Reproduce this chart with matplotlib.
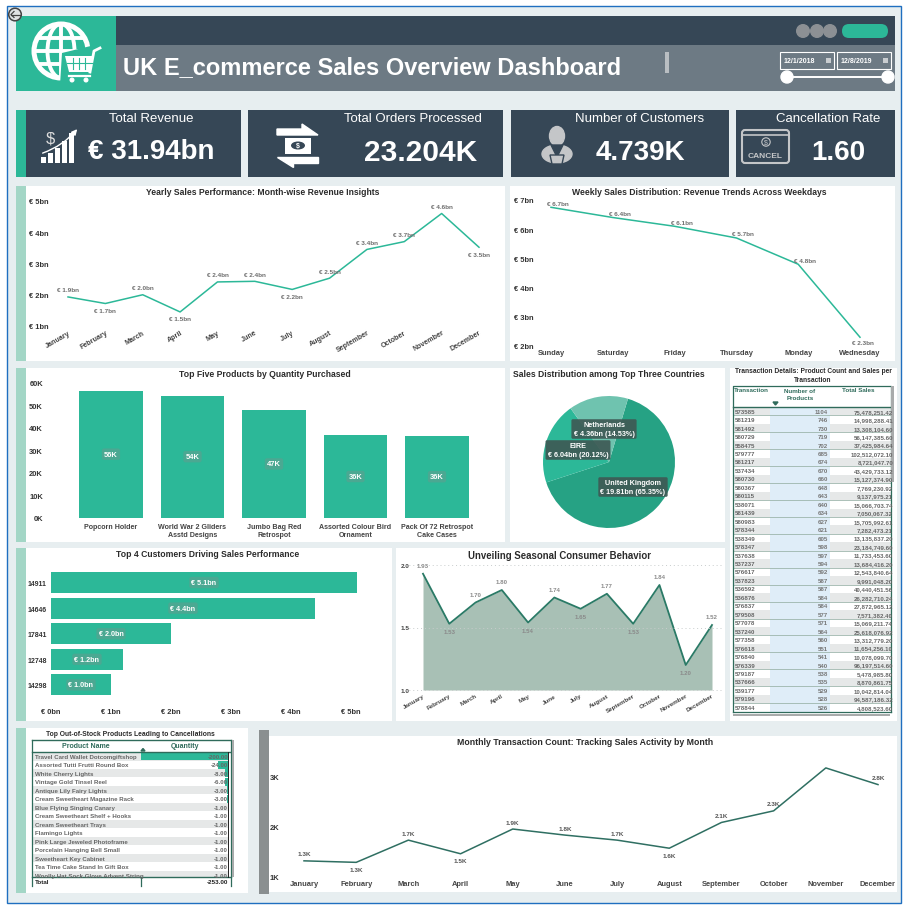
import numpy as np
import matplotlib
matplotlib.use("Agg")
import matplotlib.pyplot as plt
from matplotlib.patches import Rectangle, Circle, Ellipse, Polygon, FancyBboxPatch

plt.rcParams["font.family"] = ["Liberation Sans", "DejaVu Sans"]

# data
months = ["January", "February", "March", "April", "May", "June", "July", "August",
          "September", "October", "November", "December"]
month_rev = [1.93, 1.72, 2.00, 1.45, 2.41, 2.43, 2.17, 2.53, 3.45, 3.70, 4.60, 3.52]
month_rev_lbl = ["1.9", "1.7", "2.0", "1.5", "2.4", "2.4", "2.2", "2.5", "3.4", "3.7", "4.6", "3.5"]

weekdays = ["Sunday", "Saturday", "Friday", "Thursday", "Monday", "Wednesday"]
week_rev = [6.75, 6.40, 6.10, 5.70, 4.80, 2.30]
week_rev_lbl = ["6.7", "6.4", "6.1", "5.7", "4.8", "2.3"]

products = ["Popcorn Holder", "World War 2 Gliders\nAsstd Designs", "Jumbo Bag Red\nRetrospot",
            "Assorted Colour Bird\nOrnament", "Pack Of 72 Retrospot\nCake Cases"]
product_qty = [56.5, 54.3, 47.8, 36.6, 36.4]
product_lbl = ["56K", "54K", "47K", "36K", "36K"]

countries = ["United Kingdom", "EIRE", "Netherlands"]
country_share = [65.35, 20.12, 14.53]
country_val = [19.81, 6.04, 4.36]

customers = ["14911", "14646", "17841", "12748", "14298"]
customer_rev = [5.1, 4.4, 2.0, 1.2, 1.0]

cancel_rate = [1.93, 1.53, 1.70, 1.80, 1.54, 1.74, 1.65, 1.77, 1.53, 1.84, 1.20, 1.52]

month_tx = [1.32, 1.29, 1.73, 1.46, 1.95, 1.83, 1.73, 1.57, 2.08, 2.31, 3.16, 2.83]
month_tx_lbl = ["1.3K", "1.3K", "1.7K", "1.5K", "1.9K", "1.8K", "1.7K", "1.6K", "2.1K", "2.3K", "3.1K", "2.8K"]

tx_ids = ["573585", "581219", "581492", "580729", "558475", "579777", "581217", "537434", "580730",
          "580367", "580115", "538071", "581439", "580983", "578344", "538349", "578347", "537638",
          "537237", "576617", "537823", "536592", "536876", "576837", "579508", "577078", "537240",
          "577358", "576618", "576840", "576339", "579187", "537666", "539177", "579196", "578844"]
tx_counts = [1104, 746, 730, 719, 702, 685, 674, 670, 660, 648, 643, 640, 634, 627, 621, 605, 598, 597,
             594, 592, 587, 587, 584, 584, 577, 571, 564, 560, 551, 541, 540, 538, 535, 529, 528, 526]
tx_sales = ["75,478,251.42", "14,998,288.41", "13,308,104.60", "56,147,385.60", "37,425,984.64",
            "102,512,072.10", "8,721,047.70", "43,429,733.12", "15,127,374.90", "7,769,230.92",
            "9,137,975.21", "15,066,703.74", "7,050,067.32", "15,705,992.61", "7,282,473.21",
            "13,135,837.20", "23,184,749.60", "11,733,453.60", "13,684,416.20", "12,543,840.64",
            "9,991,048.20", "40,440,451.56", "26,282,710.24", "27,872,965.12", "7,571,382.40",
            "15,069,211.74", "25,618,076.92", "13,312,779.20", "11,654,256.10", "10,078,099.70",
            "96,197,514.60", "5,478,985.80", "8,870,861.75", "10,042,814.04", "94,587,186.32",
            "4,808,523.60"]

oos_names = ["Travel Card Wallet Dotcomgiftshop", "Assorted Tutti Frutti Round Box", "White Cherry Lights",
             "Vintage Gold Tinsel Reel", "Antique Lily Fairy Lights", "Cream Sweetheart Magazine Rack",
             "Blue Flying Singing Canary", "Cream Sweetheart Shelf + Hooks", "Cream Sweetheart Trays",
             "Flamingo Lights", "Pink Large Jeweled Photoframe", "Porcelain Hanging Bell Small",
             "Sweetheart Key Cabinet", "Tea Time Cake Stand In Gift Box", "Woolly Hat Sock Glove Advent String"]
oos_qty = [-200, -24, -8, -6, -3, -3, -1, -1, -1, -1, -1, -1, -1, -1, -1]

TEAL = "#2CB898"
STRIP = "#A3D6C6"
DARK = "#364756"
GRAY = "#6D7A84"
BG = "#E7EEF0"
PILL = "#4BA892"
W, H = 910, 912

fig = plt.figure(figsize=(W / 100, H / 100), dpi=100, facecolor="white")
# canvas in pixel coordinates for panels, icons and tables
bg = fig.add_axes([0, 0, 1, 1])
bg.set_xlim(0, W)
bg.set_ylim(H, 0)
bg.axis("off")


def box(x0, y0, x1, y1, color, z=1, **kw):
    bg.add_patch(Rectangle((x0, y0), x1 - x0, y1 - y0, facecolor=color, edgecolor="none", zorder=z, **kw))


def txt(x, y, s, size, color="white", weight="bold", ha="center", va="center", **kw):
    return bg.text(x, y, s, fontsize=size, color=color, fontweight=weight, ha=ha, va=va, zorder=6, **kw)


def px_axes(x0, y0, x1, y1):
    a = fig.add_axes([x0 / W, 1 - y1 / H, (x1 - x0) / W, (y1 - y0) / H], facecolor="none")
    for s in a.spines.values():
        s.set_visible(False)
    a.tick_params(length=0)
    return a


# frame and background
bg.add_patch(Rectangle((6.5, 6.5), 894, 898, facecolor=BG, edgecolor="#1F6FC0", lw=1, zorder=0))
bg.add_patch(Circle((15, 15.5), 6.3, facecolor="#E0E3E4", edgecolor="#444444", lw=1.1, zorder=7))
bg.plot([11, 20], [15.5, 15.5], color="#444444", lw=0.9, zorder=8)
bg.plot([14, 11, 14], [12.5, 15.5, 18.5], color="#444444", lw=0.9, zorder=8)

# header
box(16, 17, 116, 92, TEAL)
box(116, 17, 895, 46, DARK)
box(116, 46, 895, 92, GRAY)
txt(123, 68, "UK E_commerce Sales Overview Dashboard", 17, ha="left")

# globe + cart
bg.add_patch(Circle((61, 52), 27, facecolor="none", edgecolor="white", lw=3.6, zorder=3))
bg.add_patch(Ellipse((61, 52), 27, 54, facecolor="none", edgecolor="white", lw=2.8, zorder=3))
for yy, half in [(39, 23), (52, 27), (65, 23)]:
    bg.plot([61 - half, 61 + half], [yy, yy], color="white", lw=2.8, zorder=3)
bg.plot([61, 61], [25, 79], color="white", lw=2.8, zorder=3)
bg.add_patch(Polygon([(62, 54), (103, 44), (100, 86), (60, 86)], facecolor=TEAL, edgecolor="none", zorder=4))
bg.add_patch(Polygon([(65, 57), (93, 57), (90, 73), (69, 73)], facecolor="white", edgecolor="none", zorder=5))
bg.plot([90, 94, 100], [73, 52, 49], color="white", lw=2, zorder=5)
bg.plot([69, 90], [77, 77], color="white", lw=1.6, zorder=5)
for cx in (72, 86):
    bg.add_patch(Circle((cx, 81), 1.8, color="white", zorder=5))
for xx in (73, 79, 85):
    bg.plot([xx, xx], [59, 70], color=TEAL, lw=0.8, zorder=6)
bg.plot([67, 92], [64, 64], color=TEAL, lw=0.8, zorder=6)

# header controls
for cx in (803, 817, 830):
    bg.add_patch(Circle((cx, 32), 6.3, color="#8C9094", zorder=3))
bg.add_patch(FancyBboxPatch((842, 25), 46, 14, boxstyle="round,pad=0,rounding_size=7",
                            facecolor=TEAL, edgecolor="none", zorder=3))
box(665, 53, 669, 74, "#B9BEC2", z=3)
for x0, s in [(780, "12/1/2018"), (837, "12/8/2019")]:
    bg.add_patch(Rectangle((x0, 53), 54, 17, facecolor="none", edgecolor="white", lw=0.8, zorder=3))
    txt(x0 + 4, 61.5, s, 5, ha="left")
    box(x0 + 46, 58.5, x0 + 51, 63.5, "#C9CDD0", z=4)
bg.plot([787, 888], [78, 78], color="white", lw=1.4, zorder=3)
for cx in (787, 888):
    bg.add_patch(Circle((cx, 78), 6, color="white", zorder=4))

# KPI cards
box(16, 111, 26, 178, TEAL)
box(26, 111, 241, 178, DARK)
box(248, 111, 503, 178, DARK)
box(511, 111, 729, 178, DARK)
box(736, 111, 895, 178, DARK)
KS = 9.5
txt(151, 118.5, "Total Revenue", KS, weight="normal")
txt(151, 152, "€ 31.94bn", 20)
txt(413, 119.5, "Total Orders Processed", KS, weight="normal")
txt(421, 153, "23.204K", 21.5)
txt(640, 119.5, "Number of Customers", KS, weight="normal")
txt(640, 153, "4.739K", 20)
txt(828, 119.5, "Cancellation Rate", KS, weight="normal")
txt(838, 152.5, "1.60", 20)

# revenue icon
for xx, hh in zip((41, 48, 55, 62, 69), (6, 10, 15, 22, 30)):
    box(xx, 164 - hh, xx + 5, 164, "white", z=3)
bg.annotate("", xy=(79, 128), xytext=(40, 155), zorder=4,
            arrowprops=dict(arrowstyle="-|>", color="white", lw=1, connectionstyle="arc3,rad=0.15", mutation_scale=8))
txt(50, 139, "$", 12, color="#DDDDDD", weight="normal")

# transfer icon
bg.add_patch(Polygon([(277, 130), (302, 130), (302, 125), (318, 136), (277, 136)], color="white", zorder=3))
bg.add_patch(Polygon([(277, 158), (318, 158), (318, 164), (293, 164), (293, 168)], color="white", zorder=3))
box(285, 139, 311, 154.5, "white", z=3)
bg.add_patch(Ellipse((298, 146.5), 14, 8, facecolor=DARK, edgecolor="none", zorder=4))
txt(298, 146.5, "$", 5)

# customer icon
ICON = "#C4C6C8"
bg.add_patch(Ellipse((557, 137), 15, 19, color=ICON, zorder=3))
bg.add_patch(Ellipse((557, 155), 30, 18, color=ICON, zorder=3))
bg.add_patch(Polygon([(551, 146), (563, 146), (557, 158)], color=DARK, zorder=4))
bg.add_patch(Polygon([(550, 156), (564, 156), (562, 165), (552, 165)], facecolor=ICON, edgecolor=DARK, lw=1, zorder=5))

# cancel icon
bg.add_patch(FancyBboxPatch((742, 131), 47, 33, boxstyle="round,pad=0,rounding_size=3",
                            facecolor="none", edgecolor=ICON, lw=1.5, zorder=3))
bg.plot([742, 789], [136, 136], color=ICON, lw=1.2, zorder=3)
bg.add_patch(Circle((766, 143), 4.2, facecolor="none", edgecolor=ICON, lw=0.8, zorder=3))
txt(766, 143, "$", 5, color=ICON, weight="normal")
txt(765.5, 157, "CANCEL", 6, color=ICON)

# panels
box(16, 187, 26, 362, STRIP)
box(26, 187, 505, 362, "white")
box(510, 187, 895, 362, "white")
box(16, 369, 26, 543, STRIP)
box(26, 369, 505, 543, "white")
box(510, 369, 725, 543, "white")
box(730, 369, 897, 722, "white")
box(16, 549, 26, 722, STRIP)
box(26, 549, 392, 722, "white")
box(396, 549, 725, 722, "white")
box(16, 729, 26, 894, STRIP)
box(26, 729, 248, 894, "white")
box(259, 731, 269, 895, "#8A8F90")
box(269, 737, 897, 893, "white")

TC = "#2B2B2B"
LBL = "#6E6E6E"
TS = 6.2
AX = 5.4

# yearly revenue line
txt(263, 193, "Yearly Sales Performance: Month-wise Revenue Insights", TS, color=TC)
ax = px_axes(68, 202, 479, 327)
ax.plot(range(12), month_rev, color=TEAL, lw=1.1, clip_on=False)
ax.set_xlim(0, 11)
ax.set_ylim(1, 5)
ax.set_yticks([1, 2, 3, 4, 5], [f"€ {v}bn" for v in [1, 2, 3, 4, 5]], fontsize=AX, fontweight="bold", color="#333333")
ax.yaxis.set_tick_params(pad=13.7)
ax.set_xticks(range(12), months, fontsize=5.1, fontweight="bold", color="#444444", rotation=30, ha="right", rotation_mode="anchor")
ax.xaxis.set_tick_params(pad=2)
for i, (v, s) in enumerate(zip(month_rev, month_rev_lbl)):
    below = i in (1, 3, 6, 11)
    ax.annotate(f"€ {s}bn", (i, v), xytext=(0, -5 if below else 5), textcoords="offset points", ha="center",
                va="center", fontsize=4.6, fontweight="bold", color=LBL)

# weekday line
txt(699, 193, "Weekly Sales Distribution: Revenue Trends Across Weekdays", TS, color=TC)
ax = px_axes(551, 201, 860, 347)
ax.plot(range(6), week_rev, color=TEAL, lw=1.1, clip_on=False)
ax.set_xlim(0, 5)
ax.set_ylim(2, 7)
ax.set_yticks(range(2, 8), [f"€ {v}bn" for v in range(2, 8)], fontsize=AX, fontweight="bold", color="#333333")
ax.yaxis.set_tick_params(pad=12.5)
ax.set_xticks(range(6), weekdays, fontsize=AX, fontweight="bold", color="#444444")
ax.xaxis.set_tick_params(pad=2)
for i, (v, s) in enumerate(zip(week_rev, week_rev_lbl)):
    ax.annotate(f"€ {s}bn", (i, v), xytext=(5, 3) if i < 5 else (2, -4), textcoords="offset points", ha="center",
                va="center", fontsize=4.6, fontweight="bold", color=LBL)

# top products
txt(265, 375, "Top Five Products by Quantity Purchased", TS, color=TC)
ax = px_axes(79, 384, 469, 518.5)
ax.bar(range(5), product_qty, width=0.785, color=TEAL)
ax.set_xlim(-0.3925, 4.3925)
ax.set_ylim(0, 60)
ax.set_yticks(range(0, 61, 10), [f"{v}K" for v in range(0, 61, 10)], fontsize=AX, fontweight="bold", color="#333333")
ax.yaxis.set_tick_params(pad=26)
ax.set_xticks(range(5), products, fontsize=5.1, fontweight="bold", color="#444444", linespacing=1.25)
ax.xaxis.set_tick_params(pad=4)
for i, (v, s) in enumerate(zip(product_qty, product_lbl)):
    ax.text(i, v / 2, s, ha="center", va="center", fontsize=5.4, fontweight="bold", color="white",
            bbox=dict(boxstyle="round,pad=0.3", fc=PILL, ec="none"))

# pie
txt(609, 375, "Sales Distribution among Top Three Countries", TS, color=TC)
ax = px_axes(543, 397, 675, 529)
ax.pie(country_share, startangle=73.3, counterclock=False, colors=["#26A284", TEAL, "#6FC3AF"], radius=1)
ax.set_xlim(-1, 1)
ax.set_ylim(-1, 1)
for (cx, cy), c, sh, v in zip([(633, 488), (578, 451), (604, 430)], countries, country_share, country_val):
    ax.text(cx, cy, f"{c}\n€ {v:.2f}bn ({sh:.2f}%)", fontsize=5.2, fontweight="bold", color="white", ha="center",
            va="center", linespacing=1.25, transform=bg.transData, zorder=8,
            bbox=dict(boxstyle="round,pad=0.3,rounding_size=0.2", fc="#3E5A55", ec="none", alpha=0.92))

# top customers
txt(208, 555, "Top 4 Customers Driving Sales Performance", TS, color=TC)
ax = px_axes(51, 570.7, 351, 698.7)
ax.barh(range(5), customer_rev, height=0.82, color=TEAL, clip_on=False)
ax.set_xlim(0, 5)
ax.set_ylim(4.5, -0.5)
ax.set_xticks(range(6), [f"€ {v}bn" for v in range(6)], fontsize=AX, fontweight="bold", color="#333333")
ax.xaxis.set_tick_params(pad=7.5)
ax.set_yticks(range(5), customers, fontsize=5.0, fontweight="bold", color="#333333")
ax.yaxis.set_tick_params(pad=3)
for i, v in enumerate(customer_rev):
    ax.text(v / 2, i, f"€ {v:.1f}bn", ha="center", va="center", fontsize=5.2, fontweight="bold", color="white",
            bbox=dict(boxstyle="round,pad=0.3", fc=PILL, ec="none"))

# seasonal area
txt(560, 556, "Unveiling Seasonal Consumer Behavior", 6.9, color=TC)
ax = px_axes(423, 566, 712, 691)
ax.fill_between(range(12), cancel_rate, 1, color="#A8C0B5", lw=0, clip_on=False)
ax.plot(range(12), cancel_rate, color="#2A7A66", lw=1.3, clip_on=False)
ax.set_xlim(0, 11)
ax.set_ylim(1, 2)
ax.set_yticks([1, 1.5, 2], ["1.0", "1.5", "2.0"], fontsize=4.6, fontweight="bold", color="#444444")
ax.yaxis.set_tick_params(pad=10)
ax.set_xticks(range(12), months, fontsize=4.5, color="#444444", fontweight="bold", rotation=30, ha="right", rotation_mode="anchor")
ax.xaxis.set_tick_params(pad=2)
for yy in (1, 1.5, 2):
    ax.plot([-0.7, 11.4], [yy, yy], color="#C8CCCC", lw=0.7, ls=(0, (1, 3)), clip_on=False, zorder=3)
for i, v in enumerate(cancel_rate):
    below = i in (1, 4, 6, 8, 10)
    ax.annotate(f"{v:.2f}", (i, v), xytext=(0, -5.5 if below else 6), textcoords="offset points", ha="center",
                va="center", fontsize=4.4, fontweight="bold", color="#8A8A8A", zorder=4)

# monthly transactions
txt(585, 743, "Monthly Transaction Count: Tracking Sales Activity by Month", 6.3, color=TC)
ax = px_axes(304, 777, 878, 878)
ax.plot(range(12), month_tx, color="#2F6F62", lw=1.1, clip_on=False)
ax.set_xlim(0, 11)
ax.set_ylim(1, 3)
ax.set_yticks([1, 2, 3], ["1K", "2K", "3K"], fontsize=AX, fontweight="bold", color="#333333")
ax.yaxis.set_tick_params(pad=18)
ax.set_xticks(range(12), months, fontsize=AX, fontweight="bold", color="#444444")
ax.xaxis.set_tick_params(pad=2.5)
for i, (v, s) in enumerate(zip(month_tx, month_tx_lbl)):
    below = i in (1, 3, 7)
    ax.annotate(s, (i, v), xytext=(0, -5 if below else 5), textcoords="offset points", ha="center",
                va="center", fontsize=4.6, fontweight="bold", color="#555555")

# transaction table
GREEN = "#2F6B5B"
txt(813, 376, "Transaction Details: Product Count and Sales per\nTransaction", 4.8, color=TC, linespacing=1.35)
row_h = 8.46
clip = Rectangle((733, 387), 158, 326, transform=bg.transData)
box(770, 408, 830, 713, "#DFEDF8", z=2)
for i, (t, n, s) in enumerate(zip(tx_ids, tx_counts, tx_sales)):
    y = 408 + i * row_h
    if i % 2 == 0:
        box(733, y, 770, y + row_h, "#E6E8E8", z=2)
        box(830, y, 891, y + row_h, "#E6E8E8", z=2)
    else:
        bg.plot([733, 891], [y, y], color="#9DB5AC", lw=0.6, zorder=3)
    txt(735, y + row_h / 2, t, 4.4, color="#666666", ha="left")
    txt(828, y + row_h / 2, str(n), 4.4, color="#777777", ha="right")
    txt(893, y + row_h / 2, s, 4.4, color="#666666", ha="right").set_clip_path(clip)
bg.plot([733, 733, 891, 891], [713, 387, 387, 713], color=GREEN, lw=0.9, zorder=4)
bg.plot([733, 891], [713, 713], color=GREEN, lw=0.9, zorder=4)
bg.plot([733, 891], [408, 408], color=GREEN, lw=1, zorder=4)
txt(751, 391, "Transaction", 4.5, color=GREEN)
txt(800, 395, "Number of\nProducts", 4.5, color=GREEN, linespacing=1.35)
txt(858, 391, "Total Sales", 4.5, color=GREEN)
bg.add_patch(Polygon([(773, 403), (778, 403), (775.5, 406)], color=GREEN, zorder=5))
box(891, 387, 894, 483, "#A8ABAB", z=5)
box(733, 715, 890, 717, "#A8ABAB", z=5)

# out-of-stock table
txt(130, 735, "Top Out-of-Stock Products Leading to Cancellations", 4.9, color=TC)
oos_h = 8.5
clip2 = Rectangle((32, 753), 199, 124.5, transform=bg.transData)
for i, (n, q) in enumerate(zip(oos_names, oos_qty)):
    y = 753 + i * oos_h
    if i % 2 == 0:
        r = Rectangle((32, y), 196, oos_h, facecolor="#E6E8E8", edgecolor="none", zorder=2)
        bg.add_patch(r)
        r.set_clip_path(clip2)
    bar_w = 87 * q / min(oos_qty)
    r = Rectangle((228 - bar_w, y + 0.4), bar_w, oos_h - 0.8, facecolor=TEAL, edgecolor="none", zorder=3)
    bg.add_patch(r)
    r.set_clip_path(clip2)
    txt(35, y + oos_h / 2, n, 4.4, color="#666666", ha="left").set_clip_path(clip2)
    txt(228, y + oos_h / 2, f"{q:.2f}", 4.4, color="#666666", ha="right").set_clip_path(clip2)
box(32, 878, 231, 887, "white", z=4)
bg.plot([32, 231], [741, 741], color=GREEN, lw=1, zorder=5)
bg.plot([32, 231], [753, 753], color=GREEN, lw=1, zorder=5)
bg.plot([32, 231], [878, 878], color=GREEN, lw=1, zorder=5)
bg.plot([32, 32], [741, 887], color=GREEN, lw=0.9, zorder=5)
bg.plot([231, 231], [741, 887], color=GREEN, lw=0.9, zorder=5)
bg.plot([228, 228], [753, 878], color="#222222", lw=0.7, zorder=5)
bg.plot([141, 141], [878, 887], color=GREEN, lw=0.9, zorder=5)
box(231.5, 741, 234, 878, "#A8ABAB", z=5)
txt(86, 746.5, "Product Name", 5, color=GREEN)
txt(185, 746.5, "Quantity", 5, color=GREEN)
bg.add_patch(Polygon([(141, 752), (145, 752), (143, 749.5)], color=GREEN, zorder=6))
txt(35, 882.5, "Total", 4.5, color="#222222", ha="left")
txt(228, 882.5, f"{sum(oos_qty):.2f}", 4.5, color="#222222", ha="right")

fig.savefig("out.png", dpi=100, facecolor="white")
